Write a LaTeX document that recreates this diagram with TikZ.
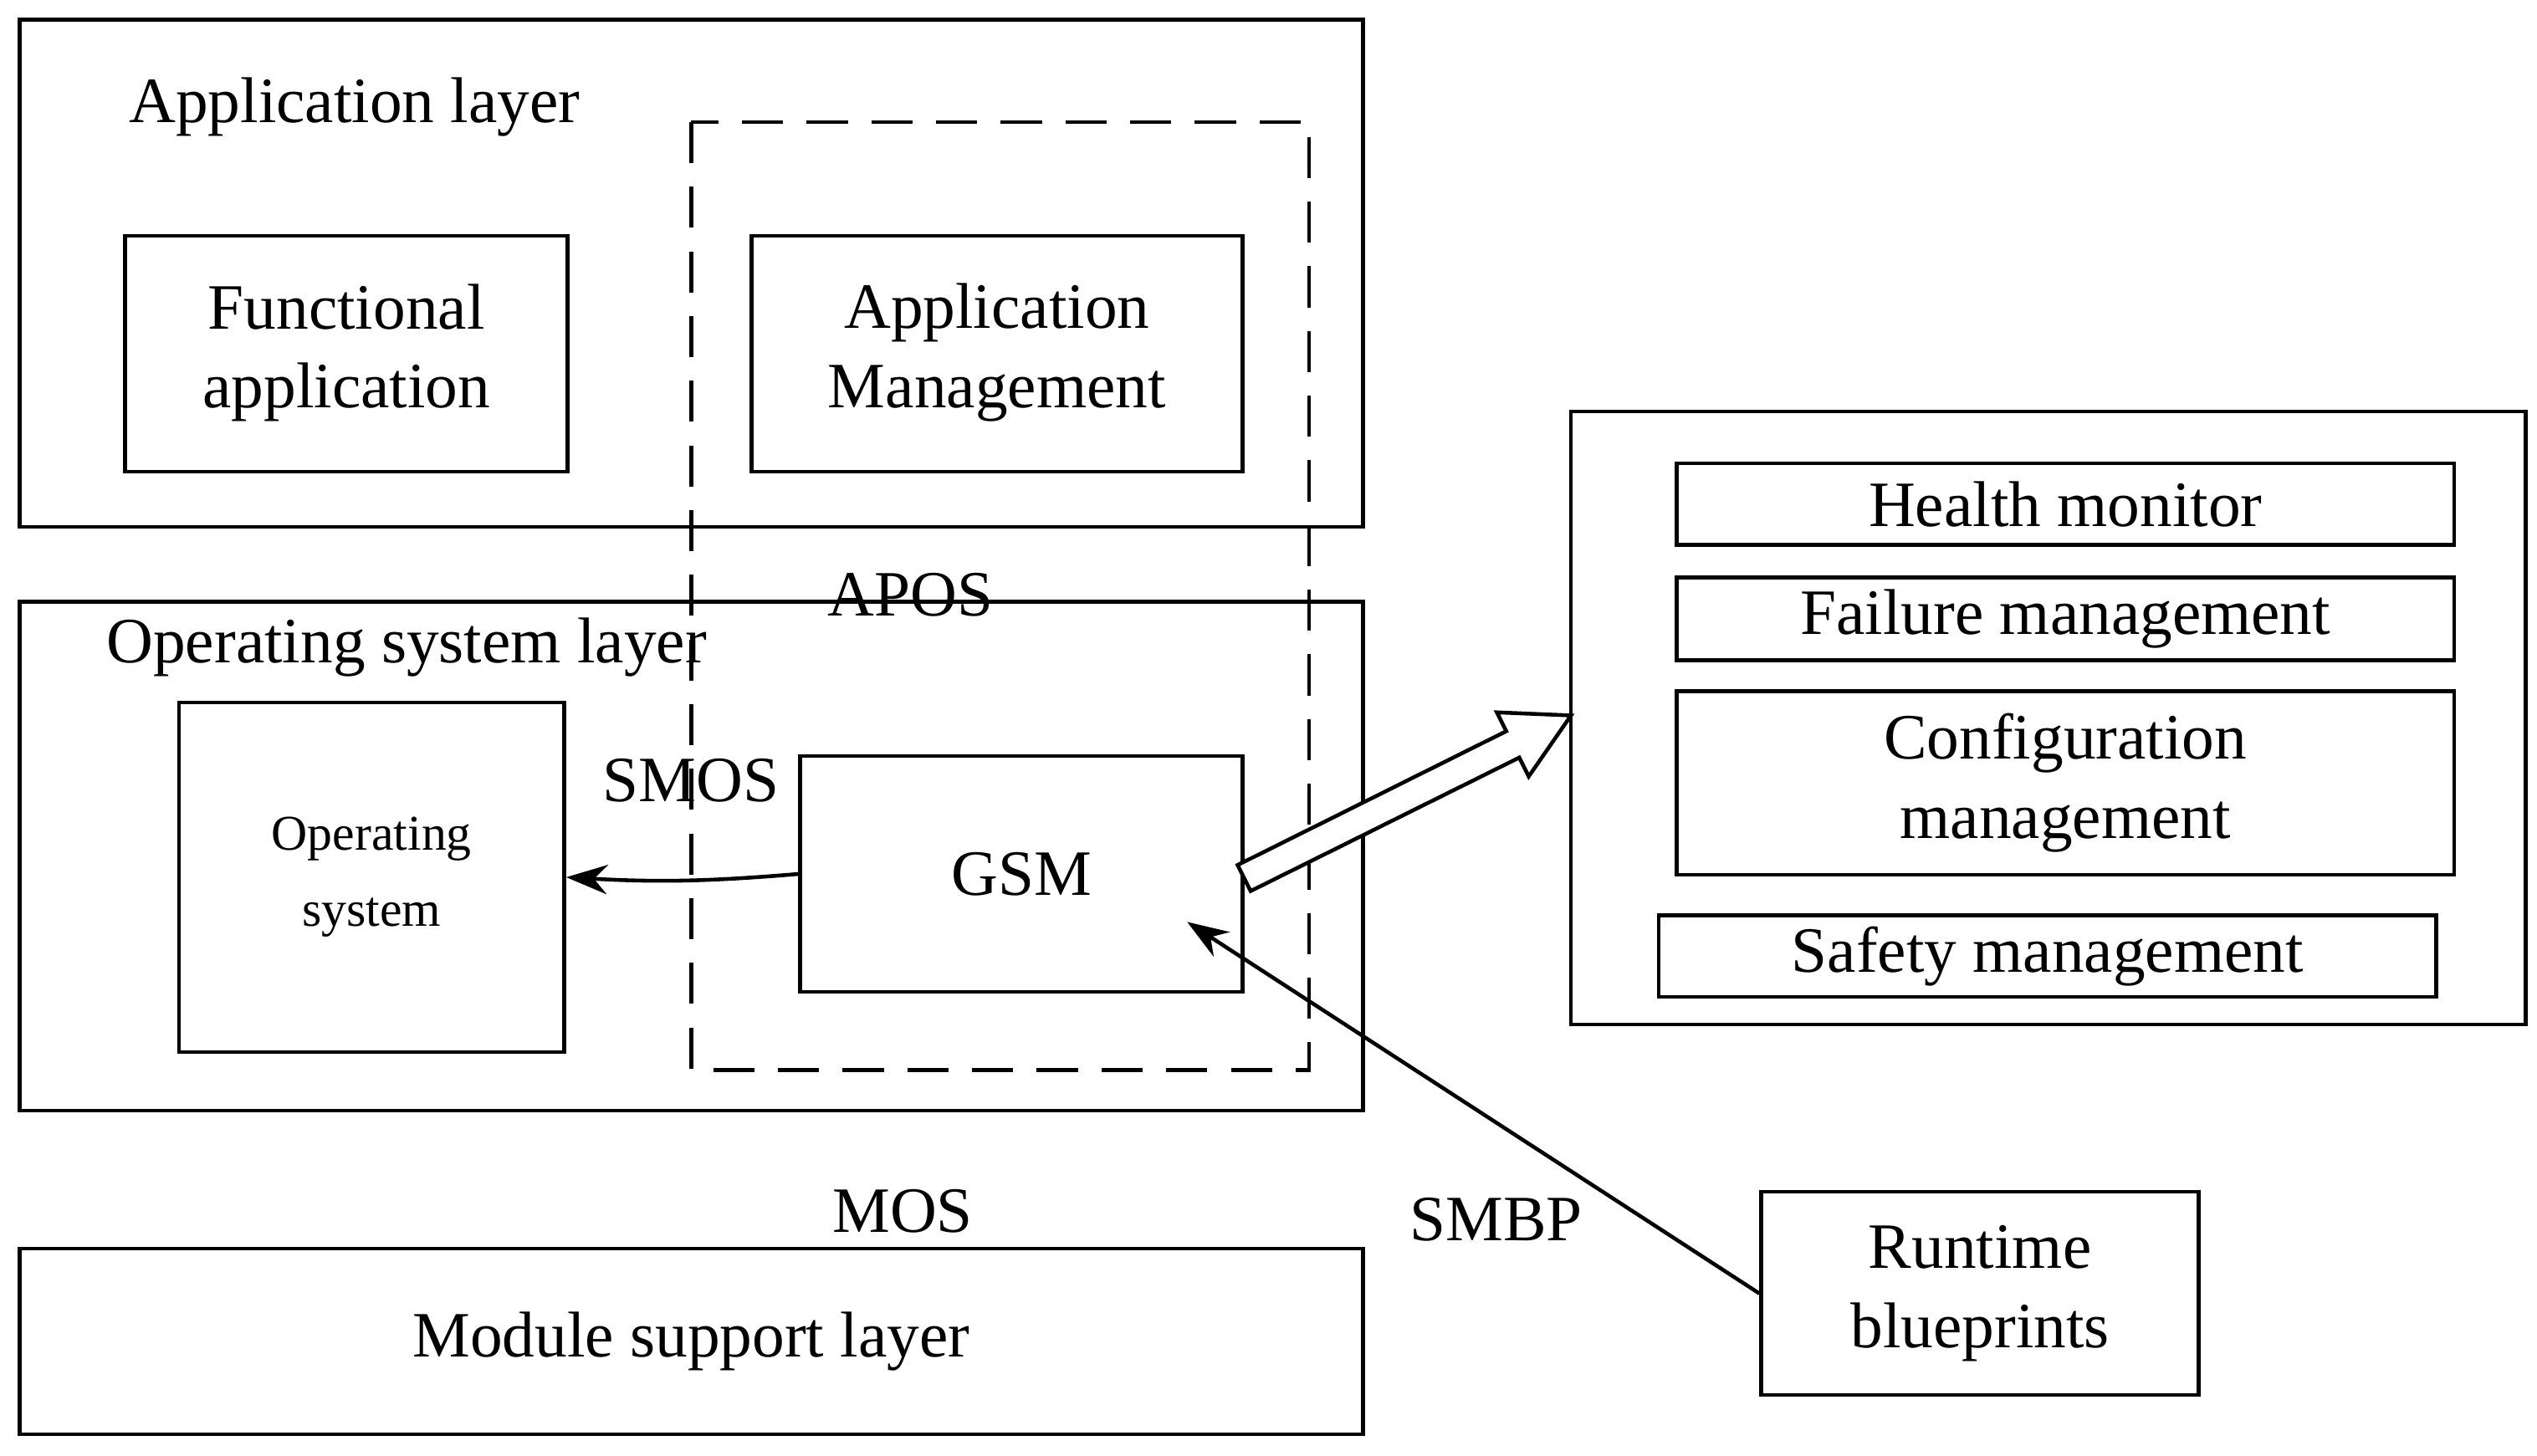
\documentclass[tikz,border=0pt]{standalone}
\usepackage{fontspec}
\setmainfont{Liberation Serif}
\usetikzlibrary{arrows.meta}
\begin{document}
\begin{tikzpicture}[x=0.01944cm,y=-0.01944cm,
  box/.style={draw,line width=1.3pt},
  lbl/.style={font=\fontsize{22}{27}\selectfont},
  arr/.style={line width=1.3pt,-{Stealth[length=14pt,width=10pt]}}]
\useasboundingbox (0,0) rectangle (1560,895);
\draw[box] (12,12) rectangle (838,324);
\node[lbl] (al) at (218,66) {Application layer};
\draw[box,dashed,dash pattern=on 14pt off 8pt] (425,75) rectangle (805,658);
\draw[box] (77,145) rectangle (349,290);
\node[lbl,align=center] (fa) at (213,217) {Functional\\application};
\draw[box] (462,145) rectangle (764,290);
\node[lbl,align=center] (am) at (613,217) {Application\\Management};
\node[lbl] (apos) at (560,366) {APOS};
\draw[box] (12,370) rectangle (838,683);
\node[lbl] (osl) at (250,398) {Operating system layer};
\node[box,minimum width=237*0.01944cm,minimum height=215*0.01944cm,align=center,font=\fontsize{17}{26}\selectfont] (os) at (228.5,539.5) {Operating\\system};
\node[lbl] (smos) at (425,480) {SMOS};
\node[box,lbl,minimum width=272*0.01944cm,minimum height=145*0.01944cm] (gsm) at (628,537.5) {GSM};
\draw[arr] (gsm.west) to[bend left=4] (os.east);
\draw[box] (966,253) rectangle (1553,630);
\node[box,lbl,minimum width=478*0.01944cm,minimum height=50*0.01944cm] (hm) at (1270,310) {Health monitor};
\node[box,lbl,minimum width=478*0.01944cm,minimum height=51*0.01944cm] (fm) at (1270,380.5) {Failure management};
\node[box,lbl,minimum width=478*0.01944cm,minimum height=113*0.01944cm,align=center] (cm) at (1270,481.5) {Configuration\\management};
\node[box,lbl,minimum width=478*0.01944cm,minimum height=50*0.01944cm] (sm) at (1259,588) {Safety management};
\draw[line width=1.3pt,fill=white] (769,548) -- (934.2,465.9) -- (940,477.5) -- (966,440) -- (920.4,438.1) -- (926.2,449.7) -- (761,532) -- cycle;
\node[lbl] (mos) at (555,745) {MOS};
\node[box,lbl,minimum width=826*0.01944cm,minimum height=114*0.01944cm] (msl) at (425,825) {Module support layer};
\node[box,lbl,minimum width=269*0.01944cm,minimum height=125*0.01944cm,align=center] (rb) at (1217.5,795.5) {Runtime\\blueprints};
\node[lbl] (smbp) at (920,750) {SMBP};
\coordinate (tip) at (730,567);
\draw[arr] (rb.west) -- (tip);
\end{tikzpicture}
\end{document}
